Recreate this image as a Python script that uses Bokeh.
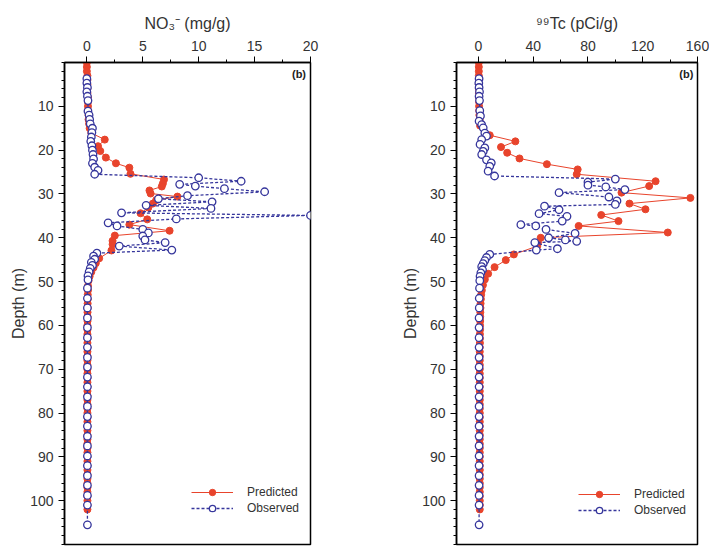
from bokeh.plotting import figure
from bokeh.models import Range1d, FixedTicker, Legend, LegendItem, Label
from bokeh.layouts import row
from bokeh.embed import file_html
from bokeh.resources import INLINE

# ---------------- data ----------------
no3_pred_depth = [0, 1, 2, 3, 4, 5, 6, 7, 8, 9, 10, 11, 12, 13, 14, 15, 16.1, 17.6, 19.1, 20.2,
                  21.7, 23.0, 24.0, 25.4, 26.7, 27.6, 28.3, 29.2, 29.9, 30.6, 31.4, 32.2, 33.1,
                  34.4, 35.8, 37.0, 38.4, 39.5, 40.7, 41.5, 42.9, 44.7, 45.8, 46.8, 47.8, 48.8,
                  49.8, 51, 52, 53, 54, 55, 56, 57, 58, 59, 60, 61, 62, 63, 64, 65, 66, 67, 68,
                  69, 70, 71, 72, 73, 74, 75, 76, 77, 78, 79, 80, 81, 82, 83, 84, 85, 86, 87,
                  88, 89, 90, 91, 92, 93, 94, 95, 96, 97, 98, 99, 100, 101, 102]
no3_pred = [0.0, 0.0, 0.0, 0.05, 0.05, 0.05, 0.05, 0.05, 0.1, 0.1, 0.1, 0.1, 0.15, 0.15, 0.2, 0.25,
            0.4, 1.6, 1.0, 1.2, 1.7, 2.6, 3.8, 3.9, 6.9, 6.8, 6.7, 5.6, 5.7, 8.1, 6.2, 5.9, 5.5,
            4.8, 5.4, 3.8, 7.4, 2.5, 2.3, 2.3, 2.2, 1.1, 0.8, 0.6, 0.4, 0.25, 0.15, 0.1, 0.1,
            0.08, 0.08, 0.07, 0.07, 0.06, 0.06, 0.06, 0.05, 0.05, 0.05, 0.05, 0.05, 0.05, 0.05,
            0.05, 0.05, 0.05, 0.05, 0.05, 0.05, 0.05, 0.05, 0.05, 0.05, 0.05, 0.05, 0.05, 0.05,
            0.05, 0.05, 0.05, 0.05, 0.05, 0.05, 0.05, 0.05, 0.05, 0.05, 0.05, 0.05, 0.05, 0.05,
            0.05, 0.05, 0.05, 0.05, 0.05, 0.05, 0.05, 0.05]

no3_obs_depth = [3.7, 4.7, 5.7, 6.7, 7.7, 8.7, 11.1, 12.0, 13.0, 14.0, 15.0, 16.0, 17.0, 18.0,
                 19.0, 20.0, 21.0, 22.0, 23.0, 23.9, 24.6, 25.5, 26.3, 27.1, 27.8, 28.2, 28.8,
                 29.5, 30.4, 31.1, 31.8, 32.6, 33.3, 34.3, 34.9, 35.7, 36.6, 37.3, 38.1, 38.9,
                 39.6, 40.5, 41.1, 41.9, 42.8, 43.5, 44.2, 44.9, 45.6, 46.3, 47.0, 47.8, 48.7,
                 49.6, 51.5, 53.8, 56.0, 58.3, 60.5, 62.8, 65.0, 67.3, 69.5, 71.8, 74.0, 76.3,
                 78.5, 80.8, 83.0, 85.3, 87.5, 89.8, 92.0, 94.3, 96.5, 98.8, 101.0, 105.5]
no3_obs = [0.0, 0.0, 0.05, 0.0, 0.05, 0.1, 0.1, 0.2, 0.25, 0.3, 0.5, 0.45, 0.4, 0.35, 0.45, 0.5,
           0.55, 0.6, 0.5, 0.7, 1.0, 0.7, 10.0, 13.8, 8.3, 9.7, 12.3, 15.9, 9.0, 6.4, 11.2, 5.3,
           11.1, 3.1, 20.0, 8.0, 1.9, 2.7, 5.0, 5.5, 5.0, 5.2, 7.0, 2.9, 7.6, 0.9, 0.6, 0.7, 0.4,
           0.5, 0.3, 0.2, 0.1, 0.1, 0.05, 0.05, 0.05, 0.05, 0.05, 0.05, 0.05, 0.05, 0.05, 0.05,
           0.05, 0.05, 0.05, 0.05, 0.05, 0.05, 0.05, 0.05, 0.05, 0.05, 0.05, 0.05, 0.05, 0.05]

tc_pred_depth = [0, 1, 2, 3, 4, 5, 6, 7, 8, 9, 10, 11, 12, 13, 14.4, 16.6, 18.0, 19.3, 20.6, 21.9,
                 23.2, 24.4, 25.5, 27.1, 28.2, 29.7, 30.9, 32.2, 33.5, 34.8, 36.2, 37.3, 38.8,
                 40.0, 41.1, 41.9, 43.8, 45.1, 46.7, 48.2, 49.5, 50.8, 52, 53, 54, 55, 56, 57, 58,
                 59, 60, 61, 62, 63, 64, 65, 66, 67, 68, 69, 70, 71, 72, 73, 74, 75, 76, 77, 78,
                 79, 80, 81, 82, 83, 84, 85, 86, 87, 88, 89, 90, 91, 92, 93, 94, 95, 96, 97, 98,
                 99, 100, 101, 102]
tc_pred = [0.3, 0.3, 0.3, 0.3, 0.3, 0.3, 0.3, 0.4, 0.4, 0.5, 0.5, 0.6, 0.7, 0.9, 1.2, 8.3, 27.0,
           16.5, 21.0, 30.0, 50.0, 72.5, 71.8, 129.4, 124.7, 104.5, 154.8, 110.3, 122.0, 89.7,
           102.3, 73.2, 138.3, 45.5, 43.5, 43.0, 25.9, 20.0, 11.8, 7.1, 4.7, 3.3, 2.5, 2.0, 1.8,
           1.6, 1.5, 1.4, 1.3, 1.3, 1.2, 1.2, 1.1, 1.1, 1.1, 1.0, 1.0, 1.0, 1.0, 1.0, 1.0, 1.0,
           1.0, 1.0, 1.0, 1.0, 1.0, 1.0, 1.0, 1.0, 1.0, 1.0, 1.0, 1.0, 1.0, 1.0, 1.0, 1.0, 1.0,
           1.0, 1.0, 1.0, 1.0, 1.0, 1.0, 1.0, 1.0, 1.0, 1.0, 1.0, 1.0, 1.0, 1.0]

tc_obs_depth = [3.7, 4.7, 5.7, 6.7, 7.7, 8.7, 11.0, 12.2, 13.4, 14.2, 14.9, 16.1, 16.8, 17.6,
                18.7, 19.5, 20.3, 21.0, 22.2, 22.9, 23.7, 24.8, 25.9, 26.6, 27.3, 28.0, 28.4,
                29.0, 29.7, 30.7, 31.6, 32.4, 32.8, 33.6, 34.5, 35.1, 36.2, 37.0, 37.3, 38.1,
                39.0, 40.0, 40.5, 40.8, 41.1, 42.5, 42.8, 43.8, 44.5, 45.2, 45.9, 46.6, 47.3,
                48.0, 48.8, 49.8, 51.5, 53.8, 56.0, 58.3, 60.5, 62.8, 65.0, 67.3, 69.5, 71.8,
                74.0, 76.3, 78.5, 80.8, 83.0, 85.3, 87.5, 89.8, 92.0, 94.3, 96.5, 98.8, 101.0, 105.5]
tc_obs = [0.5, 0.3, 0.5, 0.8, 0.5, 0.8, 1.0, 1.5, 0.5, 2.4, 3.5, 4.7, 5.9, 2.4, 1.2, 4.7, 3.5,
          2.4, 5.9, 9.4, 8.3, 7.1, 11.8, 100.0, 80.0, 80.0, 93.0, 107.0, 58.9, 95.3, 101.2,
          100.0, 48.3, 58.9, 44.3, 64.7, 61.2, 31.0, 41.9, 49.4, 70.6, 51.3, 63.5, 71.8, 41.2,
          57.7, 42.3, 8.3, 5.9, 4.7, 3.5, 2.4, 3.0, 1.8, 1.2, 1.0, 0.8, 0.6, 0.6, 0.5, 0.5, 0.5,
          0.5, 0.5, 0.5, 0.5, 0.5, 0.5, 0.5, 0.5, 0.5, 0.5, 0.5, 0.5, 0.5, 0.5, 0.5, 0.5, 0.5, 0.5]

no3_ticks = [0, 5, 10, 15, 20]
no3_minor = [2.5, 7.5, 12.5, 17.5]
tc_ticks = [0, 40, 80, 120, 160]
tc_minor = [20, 60, 100, 140]
depth_ticks = [10, 20, 30, 40, 50, 60, 70, 80, 90, 100]

RED = "#e8442c"
BLUE = "#36369c"
FONT = "Liberation Sans"


def panel(width, bl, br, xr, xt, xm, xlabel, pd, pv, od, ov, leg_loc, b_x):
    p = figure(width=width, height=547, x_range=Range1d(*xr), y_range=Range1d(110, 0),
               x_axis_location="above", output_backend="svg", toolbar_location=None,
               min_border_left=bl, min_border_right=br, min_border_top=62, min_border_bottom=3)
    p.grid.visible = False
    p.outline_line_color = "black"
    p.outline_line_width = 1.5
    p.background_fill_color = "white"
    p.border_fill_color = "white"

    xa = p.xaxis[0]
    xa.ticker = FixedTicker(ticks=xt, minor_ticks=xm)
    xa.axis_label = xlabel
    ya = p.yaxis[0]
    ya.ticker = FixedTicker(ticks=depth_ticks, minor_ticks=list(range(0, 111, 2)))
    ya.axis_label = "Depth (m)"
    for ax in (xa, ya):
        ax.axis_line_width = 1.5
        ax.axis_line_color = "black"
        ax.major_tick_out = 6
        ax.major_tick_in = 0
        ax.minor_tick_out = 3
        ax.minor_tick_in = 0
        ax.major_tick_line_color = "black"
        ax.minor_tick_line_color = "black"
        ax.major_label_text_font = FONT
        ax.major_label_text_font_size = "14px"
        ax.major_label_text_color = "#333333"
        ax.axis_label_text_font = FONT
        ax.axis_label_text_font_size = "16px"
        ax.axis_label_text_font_style = "normal"
        ax.axis_label_text_color = "#333333"
        ax.major_label_standoff = 6
    xa.axis_label_standoff = 6
    ya.axis_label_standoff = 0
    ya.major_label_standoff = 5

    l1 = p.line(pv, pd, line_color=RED, line_width=1)
    s1 = p.scatter(pv, pd, marker="circle", size=7, fill_color=RED, line_color=RED)
    l2 = p.line(ov, od, line_color=BLUE, line_width=1.3, line_dash="3 2")
    s2 = p.scatter(ov, od, marker="circle", size=7.5, fill_color="white", line_color=BLUE,
                   line_width=1.3)

    leg = Legend(items=[LegendItem(label="Predicted", renderers=[l1, s1]),
                        LegendItem(label="Observed", renderers=[l2, s2])],
                 location=leg_loc, border_line_color=None, background_fill_alpha=0,
                 glyph_width=42, glyph_height=16, label_height=16, spacing=0, padding=0,
                 margin=0, label_standoff=14, label_text_font=FONT,
                 label_text_font_size="12px", label_text_color="#333333")
    p.add_layout(leg)
    p.add_layout(Label(x=b_x, y=2.6, text="(b)", text_align="right", text_baseline="middle",
                       text_font=FONT, text_font_size="11px", text_font_style="bold",
                       text_color="#222222"))
    return p


left = panel(397, 64, 87, (-2, 20), no3_ticks, no3_minor, "NO\u2083\u207b (mg/g)",
             no3_pred_depth, no3_pred, no3_obs_depth, no3_obs, (127, 28), 19.6)
right = panel(312, 59, 12, (-16, 160), tc_ticks, tc_minor, "\u2079\u2079Tc (pCi/g)",
              tc_pred_depth, tc_pred, tc_obs_depth, tc_obs, (122, 26), 157)

layout = row(left, right)
open("out.html", "w").write(file_html(layout, INLINE))
